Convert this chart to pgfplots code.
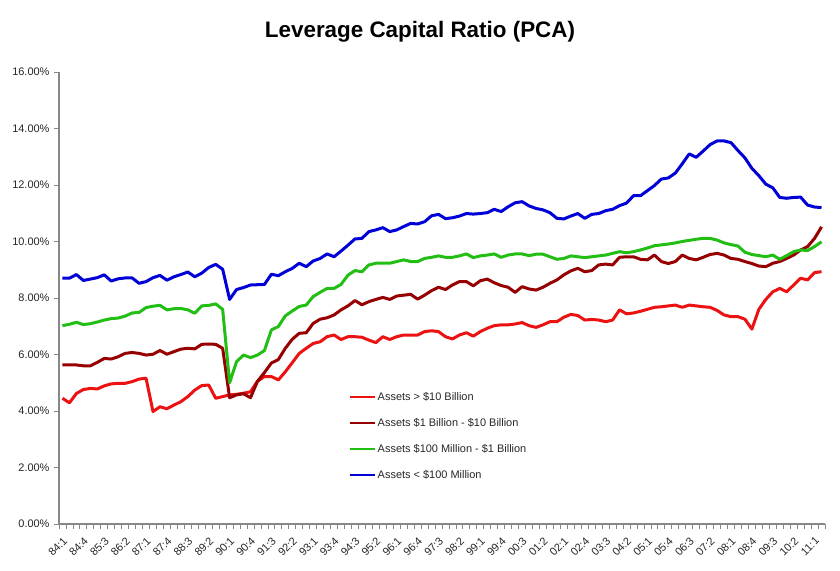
\documentclass[border=0pt]{standalone}
\usepackage{fontspec}
\setmainfont{Liberation Sans}
\usepackage{pgfplots}
\usepackage{pgfplotstable}
\pgfplotsset{compat=1.18}

\definecolor{bigred}{RGB}{236,18,18}
\definecolor{midred}{RGB}{150,0,0}
\definecolor{smallgreen}{RGB}{34,190,20}
\definecolor{tinyblue}{RGB}{0,0,215}
\definecolor{axisgray}{RGB}{135,135,135}

% quarter index (0 = 84:1), ratio in percent
\pgfplotstableread{
q R D G B
0 4.45 5.63 7.02 8.70
1 4.29 5.63 7.07 8.70
2 4.62 5.63 7.14 8.83
3 4.76 5.60 7.06 8.62
4 4.80 5.60 7.09 8.67
5 4.78 5.72 7.15 8.72
6 4.89 5.86 7.22 8.82
7 4.96 5.84 7.27 8.60
8 4.98 5.92 7.29 8.68
9 4.98 6.04 7.36 8.71
10 5.04 6.07 7.47 8.71
11 5.13 6.04 7.49 8.52
12 5.16 5.98 7.66 8.58
13 3.98 6.01 7.71 8.72
14 4.15 6.14 7.74 8.80
15 4.08 6.01 7.58 8.63
16 4.21 6.10 7.62 8.75
17 4.33 6.19 7.63 8.83
18 4.51 6.22 7.58 8.92
19 4.74 6.20 7.46 8.75
20 4.90 6.36 7.72 8.88
21 4.92 6.37 7.74 9.08
22 4.45 6.36 7.79 9.19
23 4.51 6.22 7.60 9.02
24 4.57 4.47 5.00 7.95
25 4.59 4.57 5.75 8.30
26 4.63 4.61 5.98 8.37
27 4.68 4.47 5.89 8.46
28 5.05 5.05 5.98 8.47
29 5.22 5.36 6.14 8.48
30 5.22 5.70 6.87 8.84
31 5.10 5.82 6.99 8.79
32 5.39 6.22 7.37 8.93
33 5.71 6.54 7.54 9.05
34 6.04 6.75 7.70 9.23
35 6.22 6.77 7.75 9.11
36 6.39 7.10 8.05 9.31
37 6.45 7.25 8.20 9.40
38 6.63 7.30 8.34 9.56
39 6.69 7.40 8.34 9.46
40 6.53 7.58 8.48 9.66
41 6.63 7.72 8.81 9.87
42 6.63 7.91 8.97 10.09
43 6.61 7.76 8.93 10.11
44 6.51 7.87 9.17 10.35
45 6.42 7.95 9.23 10.41
46 6.63 8.02 9.23 10.49
47 6.53 7.95 9.23 10.35
48 6.63 8.07 9.29 10.41
49 6.69 8.10 9.35 10.53
50 6.69 8.13 9.29 10.64
51 6.69 7.96 9.29 10.62
52 6.81 8.10 9.40 10.70
53 6.84 8.26 9.44 10.91
54 6.81 8.38 9.49 10.96
55 6.63 8.30 9.44 10.81
56 6.55 8.46 9.44 10.84
57 6.69 8.58 9.49 10.90
58 6.77 8.58 9.56 10.99
59 6.65 8.43 9.43 10.97
60 6.81 8.61 9.49 10.99
61 6.93 8.67 9.52 11.02
62 7.02 8.54 9.56 11.14
63 7.05 8.44 9.44 11.06
64 7.05 8.38 9.52 11.23
65 7.08 8.20 9.56 11.37
66 7.13 8.40 9.56 11.41
67 7.02 8.32 9.50 11.26
68 6.96 8.28 9.55 11.17
69 7.05 8.38 9.55 11.12
70 7.16 8.52 9.46 11.02
71 7.16 8.64 9.37 10.82
72 7.32 8.82 9.40 10.80
73 7.42 8.96 9.49 10.90
74 7.38 9.05 9.46 10.99
75 7.22 8.93 9.43 10.82
76 7.24 8.97 9.46 10.96
77 7.22 9.17 9.49 10.99
78 7.16 9.20 9.52 11.09
79 7.22 9.17 9.58 11.14
80 7.58 9.44 9.64 11.27
81 7.44 9.46 9.60 11.36
82 7.47 9.46 9.64 11.62
83 7.53 9.37 9.70 11.62
84 7.60 9.35 9.77 11.80
85 7.67 9.52 9.85 11.98
86 7.69 9.29 9.88 12.21
87 7.72 9.22 9.91 12.25
88 7.75 9.29 9.95 12.42
89 7.67 9.52 10.00 12.75
90 7.75 9.40 10.04 13.10
91 7.72 9.35 10.08 12.98
92 7.69 9.44 10.11 13.20
93 7.67 9.54 10.11 13.43
94 7.56 9.58 10.05 13.56
95 7.40 9.52 9.95 13.56
96 7.34 9.40 9.89 13.50
97 7.34 9.37 9.84 13.22
98 7.25 9.29 9.62 12.96
99 6.90 9.22 9.54 12.59
100 7.60 9.13 9.50 12.33
101 7.95 9.11 9.46 12.03
102 8.22 9.23 9.52 11.90
103 8.34 9.29 9.37 11.56
104 8.22 9.40 9.50 11.53
105 8.46 9.52 9.64 11.56
106 8.70 9.70 9.70 11.57
107 8.64 9.82 9.68 11.29
108 8.90 10.11 9.82 11.22
109 8.93 10.52 9.99 11.20
}\pca

\begin{document}
\begin{tikzpicture}
\begin{axis}[
    name=main,
    scale only axis,
    width=766bp, height=452bp,
    xmin=-0.5, xmax=109.5,
    ymin=0, ymax=16,
    axis lines*=left,
    axis line style={draw=axisgray, line width=1.2bp},
    tick align=outside,
    major tick length=5bp,
    minor tick length=5bp,
    tick style={draw=axisgray, line width=0.8bp},
    ytick={0,2,...,16},
    yticklabels={0.00\%,2.00\%,4.00\%,6.00\%,8.00\%,10.00\%,12.00\%,14.00\%,16.00\%},
    xtick={0,3,...,108},
    xticklabels={84:1,84:4,85:3,86:2,87:1,87:4,88:3,89:2,90:1,90:4,91:3,92:2,93:1,93:4,94:3,95:2,96:1,96:4,97:3,98:2,99:1,99:4,00:3,01:2,02:1,02:4,03:3,04:2,05:1,05:4,06:3,07:2,08:1,08:4,09:3,10:2,11:1},
    major x tick style={draw=none},
    minor xtick={-0.5,0.5,...,109.5},
    /pgf/number format/assume math mode=true,
    ticklabel style={font=\fontsize{11}{13}\selectfont, text=black!85},
    yticklabel style={xshift=-1bp},
    xticklabel style={rotate=45, anchor=north east, inner sep=1bp, xshift=-4bp, yshift=-4bp},
    legend style={at={(rel axis cs:0.378,0.296)}, anchor=north west,
        draw=none, fill=none, inner sep=0pt,
        font=\fontsize{11}{13}\selectfont, text=black!85,
        row sep=12.5bp, cells={anchor=west}},
    legend image code/.code={\draw[#1, line width=2bp] (0bp,0bp) -- (25bp,0bp);},
    every axis plot/.append style={line width=3bp, line join=round, no markers},
]
\addplot[bigred] table[x=q, y=R] {\pca};
\addlegendentry{Assets > \$10 Billion}
\addplot[midred] table[x=q, y=D] {\pca};
\addlegendentry{Assets \$1 Billion - \$10 Billion}
\addplot[smallgreen] table[x=q, y=G] {\pca};
\addlegendentry{Assets \$100 Million - \$1 Billion}
\addplot[tinyblue] table[x=q, y=B] {\pca};
\addlegendentry{Assets < \$100 Million}
\end{axis}
\node[font=\bfseries\fontsize{22.5}{26}\selectfont] at ([xshift=361bp, yshift=40bp]main.north west) {Leverage Capital Ratio (PCA)};
\path ([xshift=-59bp, yshift=-47bp]main.south west) rectangle ([xshift=15bp, yshift=72bp]main.north east);
\end{tikzpicture}
\end{document}
